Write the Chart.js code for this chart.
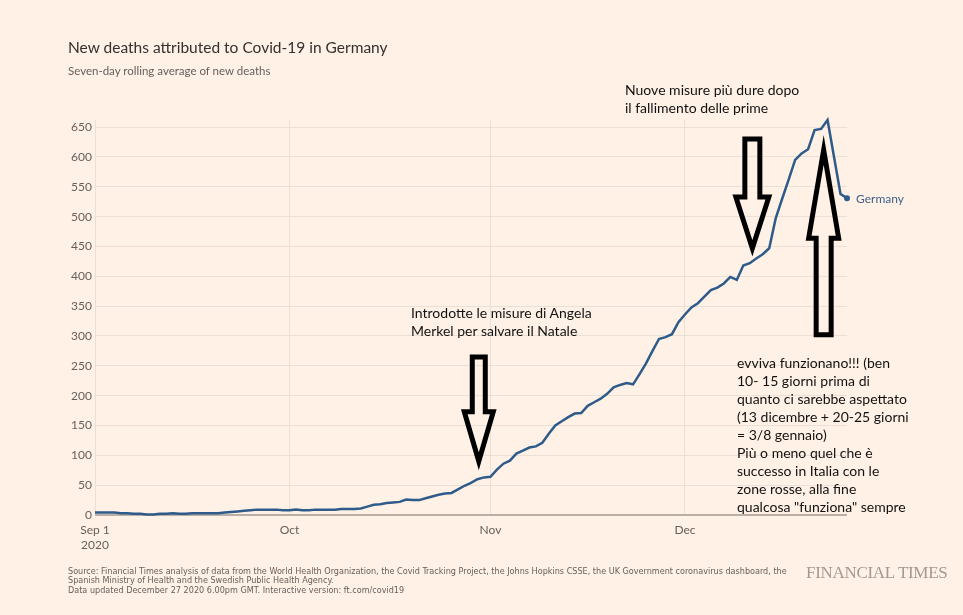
<!DOCTYPE html>
<html>
<head>
<meta charset="utf-8">
<script src="https://cdn.jsdelivr.net/npm/chart.js@4.4.1/dist/chart.umd.min.js"></script>
<style>
  body { margin: 0; background: #fff1e5; }
  #wrap { position: relative; width: 963px; height: 615px; background: #fff1e5; overflow: hidden; }
  #myChart { position: absolute; left: 0; top: 0; }
  .txt { position: absolute; white-space: nowrap; margin: 0; }
  .title { left: 68px; top: 39px; font: 15.5px Lato, sans-serif; line-height: 16px; color: #33302e; }
  .sub { left: 68px; top: 65px; font: 11.5px Lato, sans-serif; line-height: 11.5px; color: #66605c; }
  .note { font: 14px Lato, sans-serif; line-height: 17.5px; color: #111; }
  .block { line-height: 18px; }
  .source { left: 68px; top: 567px; font: 9px "Liberation Sans Narrow", "DejaVu Sans Condensed", sans-serif; line-height: 9.3px; color: #66605c; }
  .ft { left: 806px; top: 563px; font: 17px "Liberation Serif", serif; color: #a19a94; letter-spacing: -0.3px; }
</style>
</head>
<body>
<div id="wrap">
  <canvas id="myChart" width="963" height="615"></canvas>
  <div class="txt title">New deaths attributed to Covid-19 in Germany</div>
  <div class="txt sub">Seven-day rolling average of new deaths</div>
  <div class="txt note" style="left:625px; top:81px;">Nuove misure più dure dopo<br>il fallimento delle prime</div>
  <div class="txt note" style="left:411px; top:304px;">Introdotte le misure di Angela<br>Merkel per salvare il Natale</div>
  <div class="txt note block" style="left:737px; top:354px;">evviva funzionano!!! (ben<br>10- 15 giorni prima di<br>quanto ci sarebbe aspettato<br>(13 dicembre + 20-25 giorni<br>= 3/8 gennaio)<br>Più o meno quel che è<br>successo in Italia con le<br>zone rosse, alla fine<br>qualcosa "funziona" sempre</div>
  <div class="txt source">Source: Financial Times analysis of data from the World Health Organization, the Covid Tracking Project, the Johns Hopkins CSSE, the UK Government coronavirus dashboard, the<br>Spanish Ministry of Health and the Swedish Public Health Agency.<br>Data updated December 27 2020 6.00pm GMT. Interactive version: ft.com/covid19</div>
  <div class="txt ft">FINANCIAL TIMES</div>
</div>
<script>
// 데이터: 9월 1일(0)부터 하루 단위, 7일 평균 사망자수
var seriesName = 'Germany';
var sepDeaths = [4, 4, 4, 4, 3, 3, 2, 2, 1, 1, 2, 2, 3, 2, 2, 3, 3, 3, 3, 3, 4, 5, 6, 7, 8, 9, 9, 9, 9, 8];
var octDeaths = [8, 9, 8, 8, 9, 9, 9, 9, 10, 10, 10, 11, 14, 17, 18, 20, 21, 22, 26, 25, 25, 28, 31, 34, 36, 37, 43, 49, 54, 60, 63];
var novDeaths = [64, 76, 86, 91, 103, 108, 113, 115, 121, 136, 150, 157, 164, 170, 171, 183, 189, 195, 203, 214, 218, 221, 219, 236, 254, 275, 295, 298, 303, 323];
var decDeaths = [336, 348, 355, 366, 377, 381, 388, 399, 394, 418, 422, 430, 437, 447, 497, 530, 562, 595, 606, 613, 645, 647, 662, 600, 538, 531];
var deaths = sepDeaths.concat(octDeaths, novDeaths, decDeaths);

// x축 눈금 (9월 1일부터 며칠째)
var tickDays = [0, 30, 61, 91];
var tickLabels = [['Sep 1', '2020'], 'Oct', 'Nov', 'Dec'];
var yTicks = [0, 50, 100, 150, 200, 250, 300, 350, 400, 450, 500, 550, 600, 650];
var yMax = 662;

// 화살표 주석 (day, 꼬리/머리시작/끝 값)
var arrows = [
  { day: 59.2, tail: 265, base: 173, tip: 90, shaft: 13, head: 29 },
  { day: 101.4, tail: 630, base: 533, tip: 447, shaft: 15, head: 33 },
  { day: 112.4, tail: 302, base: 464, tip: 612, shaft: 15, head: 30 }
];

var points = deaths.map(function (v, i) { return { x: i, y: v }; });

var gridColor = '#ebe0d5';
var tickColor = '#66605c';

var annotations = {
  id: 'annotations',
  afterDatasetsDraw: function (chart) {
    var ctx = chart.ctx;
    var xs = chart.scales.x, ys = chart.scales.y;
    var last = deaths.length - 1;
    ctx.save();
    // 시리즈 이름
    ctx.font = '12px Lato';
    ctx.fillStyle = '#3f5f86';
    ctx.textBaseline = 'middle';
    ctx.fillText(seriesName, xs.getPixelForValue(last) + 9, ys.getPixelForValue(deaths[last]) + 1);
    // 화살표
    ctx.strokeStyle = '#000';
    ctx.lineWidth = 5;
    ctx.lineJoin = 'miter';
    arrows.forEach(function (a) {
      var cx = xs.getPixelForValue(a.day);
      var tail = ys.getPixelForValue(a.tail);
      var base = ys.getPixelForValue(a.base);
      var tip = ys.getPixelForValue(a.tip);
      var s = a.shaft / 2, h = a.head / 2;
      ctx.beginPath();
      ctx.moveTo(cx - s, tail);
      ctx.lineTo(cx + s, tail);
      ctx.lineTo(cx + s, base);
      ctx.lineTo(cx + h, base);
      ctx.lineTo(cx, tip);
      ctx.lineTo(cx - h, base);
      ctx.lineTo(cx - s, base);
      ctx.closePath();
      ctx.stroke();
    });
    ctx.restore();
  }
};

var ctx = document.getElementById('myChart').getContext('2d');
var chart = new Chart(ctx, {
  type: 'line',
  data: {
    datasets: [{
      label: seriesName,
      data: points,
      borderColor: '#2e5b8a',
      backgroundColor: '#2e5b8a',
      borderWidth: 2.5,
      tension: 0,
      clip: false,
      pointRadius: function (c) { return c.dataIndex === deaths.length - 1 ? 3 : 0; },
      pointBorderWidth: 0,
      pointHoverRadius: 0
    }]
  },
  options: {
    responsive: false,
    animation: false,
    events: [],
    layout: { padding: { top: 120, right: 116, left: 0, bottom: 0 } },
    plugins: { legend: { display: false }, tooltip: { enabled: false } },
    scales: {
      x: {
        type: 'linear',
        min: 0,
        max: deaths.length - 1,
        afterBuildTicks: function (scale) {
          scale.ticks = tickDays.map(function (d) { return { value: d }; });
        },
        afterFit: function (scale) { scale.height = 100; },
        border: { display: false },
        grid: { color: gridColor, lineWidth: 1, drawTicks: false },
        ticks: {
          autoSkip: false,
          maxRotation: 0,
          padding: 8,
          color: tickColor,
          font: { family: 'Lato', size: 12, lineHeight: 1.25 },
          callback: function (value) { return tickLabels[tickDays.indexOf(value)]; }
        }
      },
      y: {
        min: 0,
        max: yMax,
        afterBuildTicks: function (scale) {
          scale.ticks = yTicks.map(function (v) { return { value: v }; });
        },
        afterFit: function (scale) { scale.width = 95; },
        border: { display: false },
        grid: {
          drawTicks: false,
          color: function (c) { return c.tick && c.tick.value === 0 ? '#b9afa6' : gridColor; },
          lineWidth: function (c) { return c.tick && c.tick.value === 0 ? 2 : 1; }
        },
        ticks: {
          padding: 3,
          color: tickColor,
          font: { family: 'Lato', size: 12 }
        }
      }
    }
  },
  plugins: [annotations]
});
</script>
</body>
</html>
